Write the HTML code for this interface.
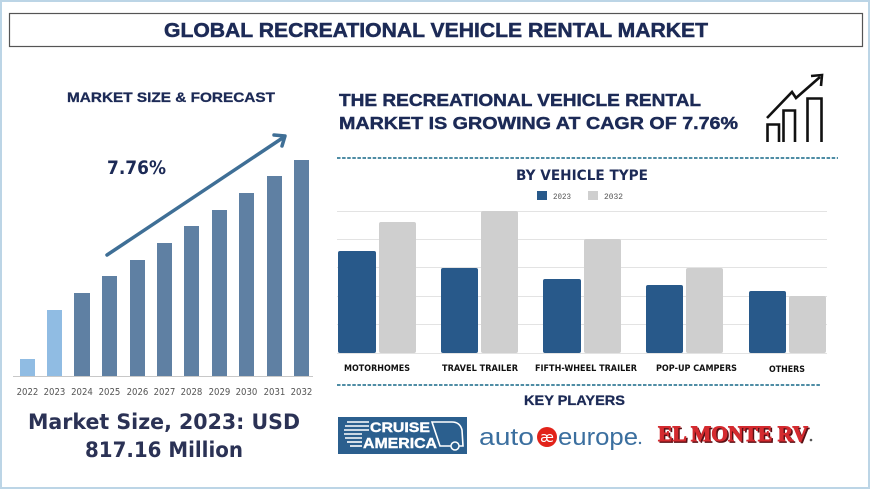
<!DOCTYPE html>
<html><head><meta charset="utf-8">
<style>
html,body{margin:0;padding:0;background:#fff;}
svg{display:block;}
</style></head>
<body>
<svg width="870" height="489" viewBox="0 0 870 489" xmlns="http://www.w3.org/2000/svg">
<rect x="0" y="0" width="870" height="489" fill="#fff"/>
<rect x="1" y="1" width="868" height="487" fill="none" stroke="#bcd5e6" stroke-width="2"/>
<!-- title -->
<rect x="9.5" y="13.5" width="853" height="33" fill="#fff" stroke="#555" stroke-width="1.2"/>
<text x="164" y="37" font-family="Liberation Sans, sans-serif" font-weight="bold" font-size="20" fill="#1c2a56" stroke="#1c2a56" stroke-width="0.5" textLength="544" lengthAdjust="spacingAndGlyphs">GLOBAL RECREATIONAL VEHICLE RENTAL MARKET</text>

<!-- left panel -->
<text x="67" y="102" font-family="Liberation Sans, sans-serif" font-weight="bold" font-size="13.5" fill="#1c2a56" stroke="#1c2a56" stroke-width="0.3" textLength="208" lengthAdjust="spacingAndGlyphs">MARKET SIZE &amp; FORECAST</text>
<text x="107" y="174" font-family="DejaVu Sans, sans-serif" font-weight="bold" font-size="19" fill="#1c2a56" textLength="59" lengthAdjust="spacingAndGlyphs">7.76%</text>

<g>
<rect x="20" y="359" width="15" height="17" fill="#90bce3"/>
<rect x="47" y="310" width="15" height="66" fill="#90bce3"/>
<rect x="74" y="293" width="16" height="83" fill="#5f80a3"/>
<rect x="102" y="276" width="15" height="100" fill="#5f80a3"/>
<rect x="130" y="260" width="15" height="116" fill="#5f80a3"/>
<rect x="157" y="243" width="15" height="133" fill="#5f80a3"/>
<rect x="184" y="226" width="15" height="150" fill="#5f80a3"/>
<rect x="212" y="210" width="15" height="166" fill="#5f80a3"/>
<rect x="239" y="193" width="15" height="183" fill="#5f80a3"/>
<rect x="267" y="176" width="15" height="200" fill="#5f80a3"/>
<rect x="294" y="160" width="15" height="216" fill="#5f80a3"/>
</g>
<line x1="13" y1="376.5" x2="313" y2="376.5" stroke="#c8c8c8" stroke-width="1"/>
<!-- arrow -->
<g stroke="#3f6f96" stroke-width="3.5" fill="none" stroke-linecap="round" stroke-linejoin="round">
<line x1="107" y1="255" x2="284" y2="137"/>
<polyline points="274,135 285,136 282,146"/>
</g>
<g font-family="DejaVu Sans Condensed, DejaVu Sans, sans-serif" font-size="9.5" fill="#555" text-anchor="middle">
<text x="27.5" y="395">2022</text>
<text x="54.5" y="395">2023</text>
<text x="82" y="395">2024</text>
<text x="109.5" y="395">2025</text>
<text x="137.5" y="395">2026</text>
<text x="164.5" y="395">2027</text>
<text x="191.5" y="395">2028</text>
<text x="219.5" y="395">2029</text>
<text x="246.5" y="395">2030</text>
<text x="274.5" y="395">2031</text>
<text x="301.5" y="395">2032</text>
</g>
<text x="28" y="429" font-family="DejaVu Sans, sans-serif" font-weight="bold" font-size="21" fill="#2b3255" textLength="272" lengthAdjust="spacingAndGlyphs">Market Size, 2023: USD</text>
<text x="85" y="457" font-family="DejaVu Sans, sans-serif" font-weight="bold" font-size="21" fill="#2b3255" textLength="158" lengthAdjust="spacingAndGlyphs">817.16 Million</text>

<!-- right header -->
<text x="339" y="106" font-family="Liberation Sans, sans-serif" font-weight="bold" font-size="17.5" fill="#1c2a56" stroke="#1c2a56" stroke-width="0.45" textLength="362" lengthAdjust="spacingAndGlyphs">THE RECREATIONAL VEHICLE RENTAL</text>
<text x="339" y="129" font-family="Liberation Sans, sans-serif" font-weight="bold" font-size="17.5" fill="#1c2a56" stroke="#1c2a56" stroke-width="0.45" textLength="399" lengthAdjust="spacingAndGlyphs">MARKET IS GROWING AT CAGR OF 7.76%</text>
<!-- icon -->
<g stroke="#111" stroke-width="2.6" fill="none" stroke-linejoin="miter">
<path d="M767.5,142 V124.5 H779 V142"/>
<path d="M783.5,142 V110.5 H795 V142"/>
<path d="M807.5,142 V98.5 H821.5 V142"/>
<polyline points="767,118 792,92 796,98 820,77"/>
<polyline points="811,76 822,75 821,86"/>
</g>

<line x1="337" y1="158" x2="838" y2="158" stroke="#4f8da5" stroke-width="2" stroke-dasharray="3.5 1.6"/>
<line x1="337" y1="385" x2="820" y2="385" stroke="#4f8da5" stroke-width="2" stroke-dasharray="3.5 1.6"/>

<!-- vehicle type chart -->
<text x="516" y="180" font-family="DejaVu Sans, sans-serif" font-weight="bold" font-size="14" fill="#1c2a56" textLength="132" lengthAdjust="spacingAndGlyphs">BY VEHICLE TYPE</text>
<rect x="537" y="191" width="10" height="9" fill="#28598a"/>
<text x="553" y="199" font-family="Liberation Mono, monospace" font-size="8.5" fill="#555" textLength="18" lengthAdjust="spacingAndGlyphs">2023</text>
<rect x="588" y="191" width="10" height="9" fill="#cfcfcf"/>
<text x="604" y="199" font-family="Liberation Mono, monospace" font-size="8.5" fill="#555" textLength="19" lengthAdjust="spacingAndGlyphs">2032</text>

<g stroke="#e3e3e3" stroke-width="1">
<line x1="337" y1="211.5" x2="827" y2="211.5"/>
<line x1="337" y1="239.5" x2="827" y2="239.5"/>
<line x1="337" y1="267.5" x2="827" y2="267.5"/>
<line x1="337" y1="296.5" x2="827" y2="296.5"/>
<line x1="337" y1="324.5" x2="827" y2="324.5"/>
<line x1="337" y1="353.5" x2="827" y2="353.5"/>
</g>
<g>
<rect x="338" y="251" width="38" height="102" rx="2" fill="#28598a"/>
<rect x="379" y="222" width="37" height="131" rx="2" fill="#cfcfcf"/>
<rect x="441" y="268" width="37" height="85" rx="2" fill="#28598a"/>
<rect x="481" y="211" width="37" height="142" rx="2" fill="#cfcfcf"/>
<rect x="543" y="279" width="38" height="74" rx="2" fill="#28598a"/>
<rect x="584" y="239" width="37" height="114" rx="2" fill="#cfcfcf"/>
<rect x="646" y="285" width="37" height="68" rx="2" fill="#28598a"/>
<rect x="686" y="268" width="37" height="85" rx="2" fill="#cfcfcf"/>
<rect x="749" y="291" width="37" height="62" rx="2" fill="#28598a"/>
<rect x="789" y="296" width="37" height="57" rx="2" fill="#cfcfcf"/>
</g>
<g font-family="DejaVu Sans, sans-serif" font-weight="bold" font-size="8.5" fill="#111">
<text x="344" y="371" textLength="66" lengthAdjust="spacingAndGlyphs">MOTORHOMES</text>
<text x="442" y="371" textLength="76" lengthAdjust="spacingAndGlyphs">TRAVEL TRAILER</text>
<text x="535" y="371" textLength="102" lengthAdjust="spacingAndGlyphs">FIFTH-WHEEL TRAILER</text>
<text x="656" y="371" textLength="81" lengthAdjust="spacingAndGlyphs">POP-UP CAMPERS</text>
<text x="769" y="372" textLength="36" lengthAdjust="spacingAndGlyphs">OTHERS</text>
</g>

<!-- key players -->
<text x="524" y="405" font-family="Liberation Sans, sans-serif" font-weight="bold" font-size="13.5" fill="#1c2a56" stroke="#1c2a56" stroke-width="0.3" textLength="101" lengthAdjust="spacingAndGlyphs">KEY PLAYERS</text>
<!-- cruise america -->
<rect x="338" y="417" width="129" height="37" fill="#2b5f8e"/>
<g stroke="#fff" stroke-width="1.6">
<line x1="347" y1="422" x2="369" y2="422"/>
<line x1="345" y1="426" x2="369" y2="426"/>
<line x1="344" y1="430" x2="369" y2="430"/>
<line x1="344" y1="434" x2="362" y2="434"/>
<line x1="345" y1="438" x2="362" y2="438"/>
<line x1="347" y1="442" x2="362" y2="442"/>
<line x1="350" y1="446" x2="362" y2="446"/>
</g>
<text x="370" y="432" font-family="Liberation Sans, sans-serif" font-weight="bold" font-size="14" fill="#fff" stroke="#fff" stroke-width="0.4" textLength="60" lengthAdjust="spacingAndGlyphs">CRUISE</text>
<text x="363" y="448" font-family="Liberation Sans, sans-serif" font-weight="bold" font-size="15" fill="#fff" stroke="#fff" stroke-width="0.4" textLength="74" lengthAdjust="spacingAndGlyphs">AMERICA</text>
<path d="M432,422 H452 Q460,422 462,430 L463,446 H440 Z" fill="none" stroke="#fff" stroke-width="1.6"/>
<circle cx="455" cy="446" r="4" fill="#2b5f8e" stroke="#fff" stroke-width="1.5"/>
<!-- auto europe -->
<text x="479" y="445" font-family="Liberation Sans, sans-serif" font-size="24" fill="#3b6f9f" textLength="55" lengthAdjust="spacingAndGlyphs">auto</text>
<circle cx="547" cy="437" r="10" fill="#e2231a"/>
<text x="547" y="442" font-family="DejaVu Sans, sans-serif" font-size="14" fill="#fff" text-anchor="middle">æ</text>
<text x="558" y="445" font-family="Liberation Sans, sans-serif" font-size="24" fill="#3b6f9f" textLength="80" lengthAdjust="spacingAndGlyphs">europe</text>
<circle cx="640" cy="443" r="1.2" fill="#3b6f9f"/>
<!-- el monte rv -->
<text x="659.5" y="442.5" font-family="Liberation Serif, serif" font-weight="bold" font-size="22" fill="#5a1015" stroke="#5a1015" stroke-width="0.8" textLength="150" lengthAdjust="spacingAndGlyphs">EL MONTE RV</text>
<text x="658" y="441" font-family="Liberation Serif, serif" font-weight="bold" font-size="22" fill="#d42a2f" stroke="#d42a2f" stroke-width="0.9" textLength="150" lengthAdjust="spacingAndGlyphs">EL MONTE RV</text>
<circle cx="811" cy="440" r="1.3" fill="#555"/>
</svg>
</body></html>
